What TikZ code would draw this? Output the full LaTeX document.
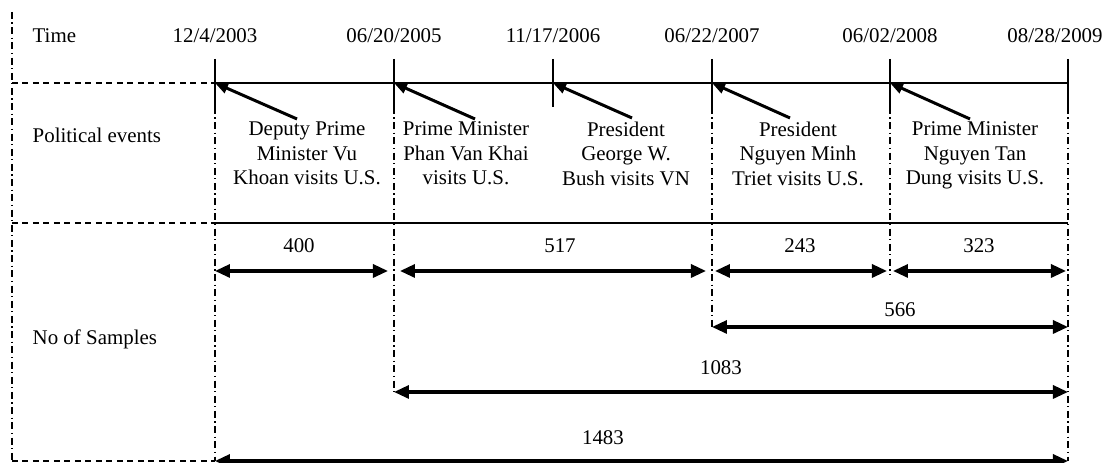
\documentclass[tikz,border=0pt]{standalone}
\usepackage{fontspec}
\setmainfont{Liberation Serif}
\usetikzlibrary{arrows.meta,positioning}
\tikzset{
  txt/.style={font=\fontsize{5.95}{6.97}\selectfont,inner sep=0pt},
  evtext/.style={txt,align=center,anchor=north},
  cnt/.style={txt,anchor=base},
  rowline/.style={line width=0.55pt},
  gapline/.style={line width=0.55pt,dash pattern=on 0.6mm off 0.45mm},
  guide/.style={line width=0.55pt,dash pattern=on 0.7mm off 0.35mm on 0.12mm off 0.35mm},
  pointer/.style={-{Triangle[length=1.3mm,width=1.05mm]},line width=0.85pt},
  span/.style={{Triangle[length=1.5mm,width=1.3mm]}-{Triangle[length=1.5mm,width=1.3mm]},line width=0.9pt}
}

\begin{document}
\begin{tikzpicture}
  \useasboundingbox (0,0) rectangle (11.07,4.63);
  % Left border
  \draw[guide] (0.12,4.51) -- (0.12,0.02);
  % Row titles
  \node[txt,anchor=base west] (time) at (0.32,4.20) {Time};
  \node[txt,anchor=base west] (pol) at (0.32,3.20) {Political events};
  \node[txt,anchor=base west] (nos) at (0.32,1.18) {No of Samples};
  % Time axis with ticks
  \foreach \n/\x in {1/2.15,2/3.94,3/5.53,4/7.12,5/8.90,6/10.68} {
    \coordinate (t\n) at (\x,3.80);
    \draw[rowline] (\x,4.04) -- (\x,3.56);
  }
  \node[cnt] (d1) at (t1 |- time.base) {12/4/2003};
  \node[cnt] (d2) at (t2 |- time.base) {06/20/2005};
  \node[cnt] (d3) at (t3 |- time.base) {11/17/2006};
  \node[cnt] (d4) at (t4 |- time.base) {06/22/2007};
  \node[cnt] (d5) at (t5 |- time.base) {06/02/2008};
  \node[cnt] (d6) at (10.55,4.20) {08/28/2009};
  \draw[gapline] (0.12,3.80) -- (t1);
  \draw[rowline] (t1) -- (t6);
  % Row separators
  \coordinate (s1) at (2.15,2.40);
  \coordinate (s6) at (10.68,2.40);
  \coordinate (b1) at (2.15,0.02);
  \draw[gapline] (0.12,2.40) -- (s1);
  \draw[rowline] (s1) -- (s6);
  \draw[gapline] (0.12,0.02) -- (b1);
  % Guides down from the ticks
  \foreach \n/\y in {1/0.02,2/0.71,4/1.36,5/1.88,6/0.02}
    \draw[guide] ([yshift=-2.4mm]t\n) -- (t\n |- 0,\y);
  % Events
  \node[evtext] (ev1) at (3.07,3.42) {Deputy Prime\\Minister Vu\\Khoan visits U.S.};
  \node[evtext] (ev2) at (4.66,3.42) {Prime Minister\\Phan Van Khai\\visits U.S.};
  \node[evtext] (ev3) at (6.26,3.42) {President\\George W.\\Bush visits VN};
  \node[evtext] (ev4) at (7.98,3.42) {President\\Nguyen Minh\\Triet visits U.S.};
  \node[evtext] (ev5) at (9.75,3.42) {Prime Minister\\Nguyen Tan\\Dung visits U.S.};
  \draw[pointer] ([xshift=-1mm,yshift=0.2mm]ev1.north) -- (t1);
  \draw[pointer] ([xshift=0.9mm,yshift=0.2mm]ev2.north) -- (t2);
  \draw[pointer] ([xshift=0.6mm,yshift=0.3mm]ev3.north) -- (t3);
  \draw[pointer] ([xshift=-0.8mm,yshift=0.3mm]ev4.north) -- (t4);
  \draw[pointer] ([xshift=-0.5mm,yshift=0.2mm]ev5.north) -- (t5);
  % Sample counts
  \coordinate (r1) at (0,1.92);
  \coordinate (r2) at (0,1.36);
  \coordinate (r3) at (0,0.71);
  \coordinate (r4) at (0,0.02);
  \draw[span,shorten >=0.6mm] (t1 |- r1) -- (t2 |- r1);
  \draw[span,shorten <=0.6mm,shorten >=0.6mm] (t2 |- r1) -- (t4 |- r1);
  \draw[span,shorten <=0.3mm,shorten >=0.3mm] (t4 |- r1) -- (t5 |- r1);
  \draw[span,shorten <=0.3mm,shorten >=0.2mm] (t5 |- r1) -- (t6 |- r1);
  \draw[span] (t4 |- r2) -- (t6 |- r2);
  \draw[span] (t2 |- r3) -- (t6 |- r3);
  \draw[span] (t1 |- r4) -- (t6 |- r4);
  \node[cnt] (n400) at (2.99,2.10) {400};
  \node[cnt] (n517) at (5.60,2.10) {517};
  \node[cnt] (n243) at (8.00,2.10) {243};
  \node[cnt] (n323) at (9.79,2.10) {323};
  \node[cnt] (n566) at (9.00,1.46) {566};
  \node[cnt] (n1083) at (7.21,0.88) {1083};
  \node[cnt] (n1483) at (6.03,0.18) {1483};
\end{tikzpicture}
\end{document}
